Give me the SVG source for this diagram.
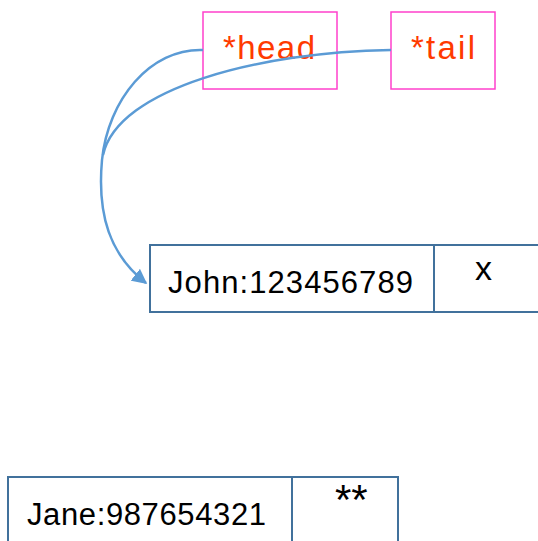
<svg xmlns="http://www.w3.org/2000/svg" width="538" height="541" viewBox="0 0 538 541">
<style>
.ptr{fill:#fff;stroke:#FF40CC;stroke-width:1.5}
.ptxt{font-family:"Liberation Sans",Arial,sans-serif;font-size:33px;fill:#FF3A00}
.cell{fill:#fff;stroke:#41719C;stroke-width:2}
.txt{font-family:"Liberation Sans",Arial,sans-serif;font-size:31px;fill:#000}
.conn{fill:none;stroke:#5B9BD5;stroke-width:2.5}
</style>
<defs>
<marker id="arr" viewBox="0 0 10 10" refX="9" refY="5" markerWidth="6" markerHeight="6" markerUnits="strokeWidth" orient="auto">
<path d="M0,0 L10,5 L0,10 Z" fill="#5B9BD5"/>
</marker>
</defs>
<rect width="538" height="541" fill="#fff"/>
<g id="head">
<rect class="ptr" x="203" y="12" width="134" height="77"/>
<text class="ptxt" x="223" y="59" textLength="92">*head</text>
</g>
<g id="tail">
<rect class="ptr" x="391" y="12" width="104" height="77"/>
<text class="ptxt" x="411" y="59" textLength="64">*tail</text>
</g>
<g id="john">
<rect class="cell" x="150" y="245" width="392" height="67"/>
<line class="cell" x1="434" y1="245" x2="434" y2="312"/>
<text class="txt" x="168" y="293" textLength="245">John:123456789</text>
<text class="txt" x="475" y="280" style="font-size:34px">x</text>
</g>
<g id="jane">
<rect class="cell" x="8" y="477" width="390" height="70"/>
<line class="cell" x1="292" y1="477" x2="292" y2="547"/>
<text class="txt" x="27" y="525" textLength="239">Jane:987654321</text>
<text class="txt" x="335" y="514" style="font-size:42px">**</text>
</g>
<g id="connectors">
<path class="conn" d="M203,50 C150,48 108,100 102,160 C97,215 110,255 146,283" marker-end="url(#arr)"/>
<path class="conn" d="M391,50 C260,52 118,88 103,155"/>
</g>
</svg>
